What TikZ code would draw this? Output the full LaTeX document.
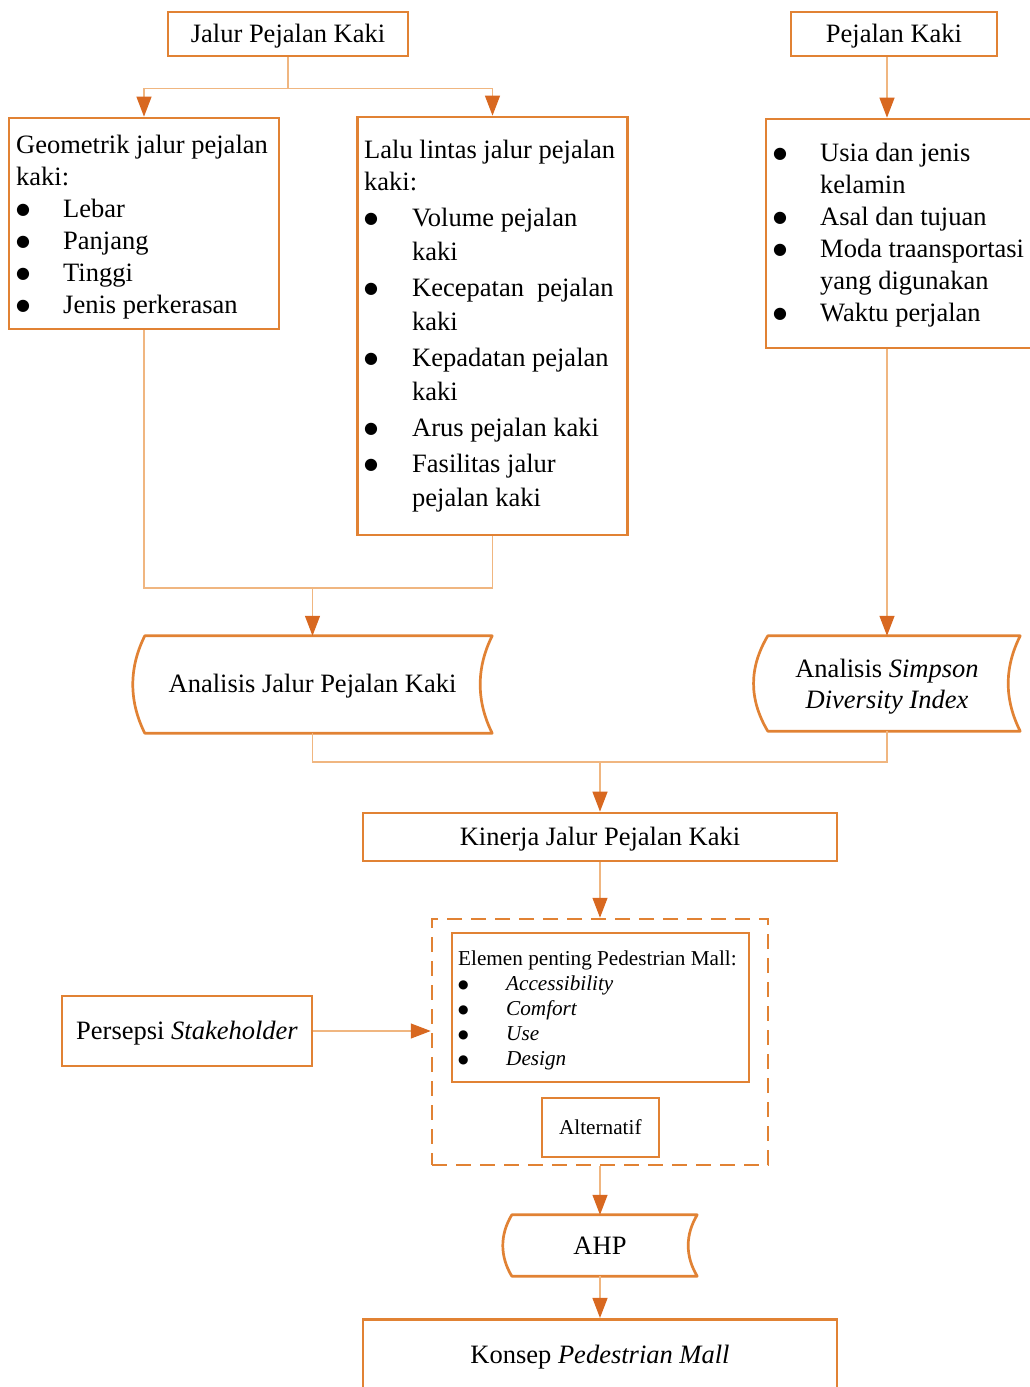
\documentclass[tikz,border=0pt]{standalone}
\usepackage{fontspec}
\setmainfont{Liberation Serif}
\newfontfamily\dejavu{DejaVu Sans}
\usetikzlibrary{arrows.meta,calc}
\definecolor{boxc}{RGB}{225,130,52}
\definecolor{linec}{RGB}{240,182,128}
\definecolor{tipc}{RGB}{216,104,32}
\newcommand{\bigf}{\fontsize{26.5}{32}\selectfont}
\newcommand{\midf}{\fontsize{26.5}{34}\selectfont}
\newcommand{\smallf}{\fontsize{21.2}{25}\selectfont}
\newcommand{\bl}[1]{\makebox[#1][l]{\raisebox{2.5pt}{\dejavu\fontsize{16}{16}\selectfont ●}}}
\newcommand{\sbl}[1]{\makebox[#1][l]{\raisebox{2pt}{\dejavu\fontsize{12}{12}\selectfont ●}}}
\tikzset{
  boxframe/.style={draw=boxc, line width=2.7pt, rectangle, inner sep=0pt},
  sdline/.style={draw=boxc, line width=2.7pt, line join=round},
  listtext/.style={inner sep=0pt, anchor=north west},
  one/.style={font=\bigf, text height=20pt, text depth=4pt},
  conn/.style={draw=linec, line width=1.2pt},
  arr/.style={conn, -{Triangle[length=20pt,width=15pt,color=tipc,fill=tipc]}},
}
\begin{document}
\begin{tikzpicture}[x=1pt,y=-1pt]
\useasboundingbox (0,0) rectangle (1030,1387);
\fill[white] (0,0) rectangle (1030,1387);
\clip (0,0) rectangle (1030,1387);

% top boxes
\node[boxframe, one, minimum width=240pt, minimum height=44pt] (jpk) at (288,34) {Jalur Pejalan Kaki};
\node[boxframe, one, minimum width=206pt, minimum height=44pt] (pk) at (894,34) {Pejalan Kaki};

% Geometrik
\node[boxframe, minimum width=270pt, minimum height=211pt] (geo) at (144,223.5) {};
\node[listtext, font=\bigf] (geot) at (16,130.6) {\begin{tabular}{@{}l@{}}
Geometrik jalur pejalan\\
kaki:\\
\bl{47pt}Lebar\\
\bl{47pt}Panjang\\
\bl{47pt}Tinggi\\
\bl{47pt}Jenis perkerasan
\end{tabular}};

% Lalu lintas
\node[boxframe, minimum width=270pt, minimum height=418pt] (lalu) at (492.5,326) {};
\node[listtext, font=\midf] (lalut) at (364,134.2) {\begin{tabular}{@{}l@{}}
Lalu lintas jalur pejalan\\[-2pt]
kaki:\\[2pt]
\bl{48pt}Volume pejalan\\
\hspace*{48pt}kaki\\[2pt]
\bl{48pt}Kecepatan\hspace{13pt}pejalan\\
\hspace*{48pt}kaki\\[2pt]
\bl{48pt}Kepadatan pejalan\\
\hspace*{48pt}kaki\\[2pt]
\bl{48pt}Arus pejalan kaki\\[2pt]
\bl{48pt}Fasilitas jalur\\
\hspace*{48pt}pejalan kaki
\end{tabular}};

% right list
\node[boxframe, minimum width=280pt, minimum height=229pt] (rb) at (906,233.5) {};
\node[listtext, font=\bigf] (rbt) at (773,138.6) {\begin{tabular}{@{}l@{}}
\bl{47pt}Usia dan jenis\\
\hspace*{47pt}kelamin\\
\bl{47pt}Asal dan tujuan\\
\bl{47pt}Moda traansportasi\\
\hspace*{47pt}yang digunakan\\
\bl{47pt}Waktu perjalan
\end{tabular}};

% Analisis Jalur Pejalan Kaki (stored data)
\node[one, inner sep=0pt, minimum width=359pt, minimum height=97pt] (aj) at (312.5,684.5) {Analisis Jalur Pejalan Kaki};
\draw[sdline] ($(aj.north west)+(12,0)$) -- (aj.north east)
  .. controls ($(aj.north east)+(-16,32)$) and ($(aj.south east)+(-16,-32)$) .. (aj.south east)
  -- ($(aj.south west)+(12,0)$)
  .. controls ($(aj.south west)+(-4,-32)$) and ($(aj.north west)+(-4,32)$) .. cycle;

% Analisis Simpson
\node[inner sep=0pt, minimum width=266pt, minimum height=95pt] (sim) at (887,683.5) {};
\draw[sdline] ($(sim.north west)+(14,0)$) -- (sim.north east)
  .. controls ($(sim.north east)+(-16,32)$) and ($(sim.south east)+(-16,-32)$) .. (sim.south east)
  -- ($(sim.south west)+(14,0)$)
  .. controls ($(sim.south west)+(-5,-32)$) and ($(sim.north west)+(-5,32)$) .. cycle;
\node[font=\fontsize{26.5}{31}\selectfont, align=center, inner sep=0pt] (simt) at (887,687) {Analisis \textit{Simpson}\\\textit{Diversity Index}};

% Kinerja
\node[boxframe, one, minimum width=474pt, minimum height=48pt] (kin) at (600,837) {Kinerja Jalur Pejalan Kaki};

% dashed group
\node[draw=boxc, line width=2.5pt, dash pattern=on 15pt off 9pt, rectangle, inner sep=0pt, minimum width=336pt, minimum height=246pt] (dsh) at (600,1042) {};
\node[boxframe, minimum width=297pt, minimum height=149pt] (elm) at (600.5,1007.5) {};
\node[listtext, font=\smallf] (elmt) at (458,947.5) {\begin{tabular}{@{}l@{}}
Elemen penting Pedestrian Mall:\\
\sbl{48pt}\textit{Accessibility}\\
\sbl{48pt}\textit{Comfort}\\
\sbl{48pt}\textit{Use}\\
\sbl{48pt}\textit{Design}
\end{tabular}};
\node[boxframe, font=\smallf, minimum width=117pt, minimum height=59pt] (alt) at (600.35,1127.5) {Alternatif};

% Persepsi
\node[boxframe, one, minimum width=250pt, minimum height=70pt] (pers) at (187,1031) {Persepsi \textit{Stakeholder}};

% AHP
\node[inner sep=0pt, font=\bigf, minimum width=194pt, minimum height=61pt] (ahp) at (600,1245.5) {AHP};
\draw[sdline] ($(ahp.north west)+(9,0)$) -- (ahp.north east)
  .. controls ($(ahp.north east)+(-12,20)$) and ($(ahp.south east)+(-12,-20)$) .. (ahp.south east)
  -- ($(ahp.south west)+(9,0)$)
  .. controls ($(ahp.south west)+(-3,-20)$) and ($(ahp.north west)+(-3,20)$) .. cycle;

% Konsep
\node[boxframe, one, minimum width=474pt, minimum height=72pt] (kon) at (600,1355.3) {Konsep \textit{Pedestrian Mall}};

% connectors
\draw[arr] (jpk.south) -- ++(0,31) -| (geo.north);
\draw[arr] (jpk.south) -- ++(0,31) -| (lalu.north);
\draw[arr] (pk.south -| sim.north) -- (rb.north -| sim.north);
\draw[arr] (rb.south -| sim.north) -- (sim.north);
\coordinate (m1) at (312.5,588);
\draw[conn] (geo.south) |- (m1) -| (lalu.south);
\draw[arr] (m1) -- (aj.north);
\coordinate (m2) at (600,762);
\draw[conn] (aj.south) |- (m2) -| (sim.south);
\draw[arr] (m2) -- (kin.north);
\draw[arr] (kin.south) -- (dsh.north);
\draw[arr] (pers.east) -- (pers.east -| dsh.west);
\draw[arr] (dsh.south) -- (ahp.north);
\draw[arr] (ahp.south) -- (kon.north);
\end{tikzpicture}
\end{document}
